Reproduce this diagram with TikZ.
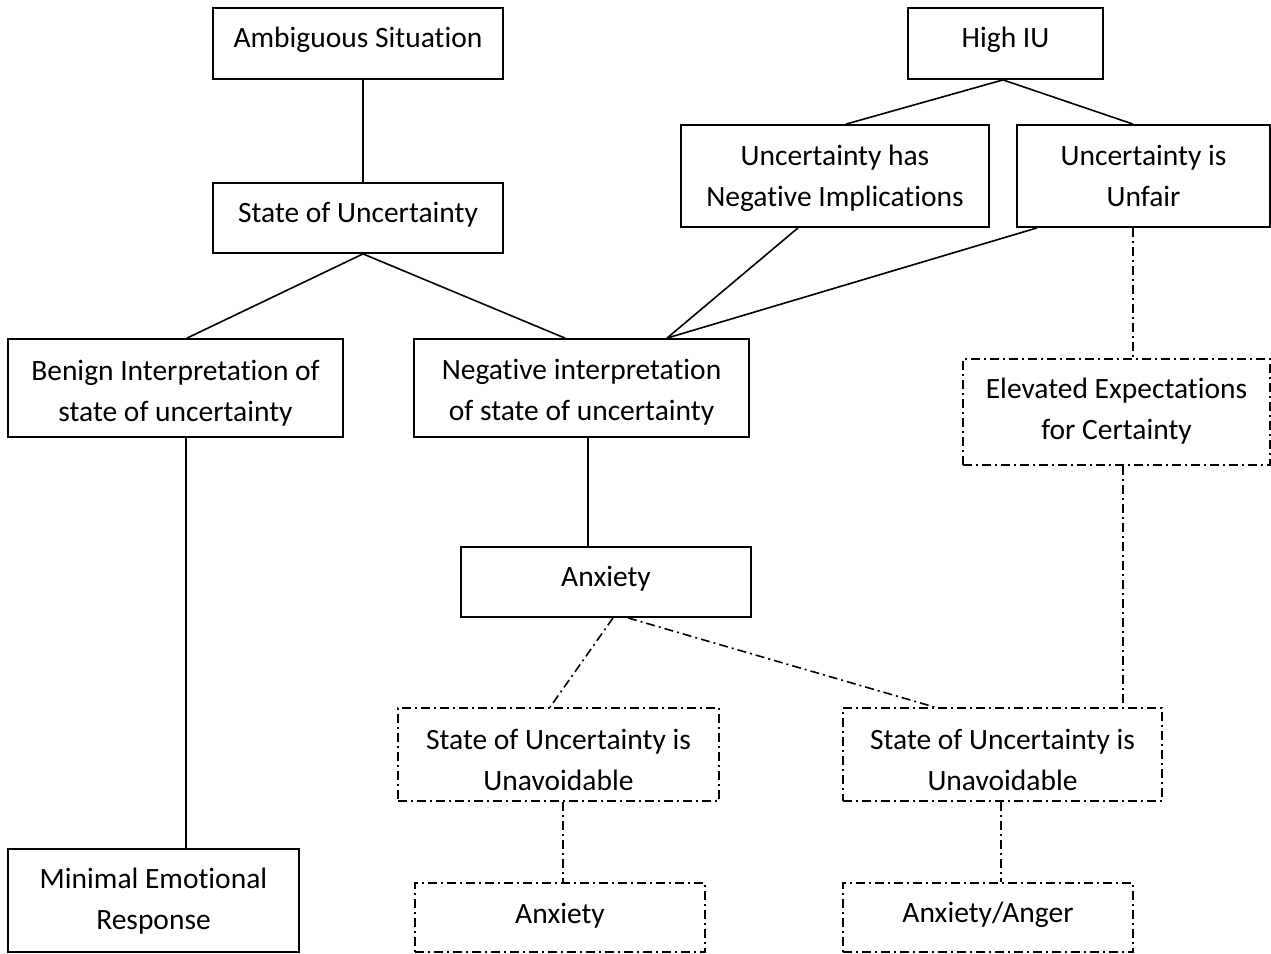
\documentclass[tikz,border=0pt]{standalone}
\usepackage{fontspec}
\setmainfont{Carlito}[Ligatures=CommonOff]
\newcommand\rl[2]{\raisebox{#1}[\height][\depth]{#2}}
\begin{document}
\begin{tikzpicture}[x=1pt,y=-1pt,
  box/.style={draw=black,line width=1.8pt,rectangle,inner sep=0pt,align=center,
    font=\fontsize{29.5}{41}\selectfont},
  dbox/.style={box,line width=1.6pt,dash pattern=on 9pt off 4pt on 2pt off 4pt},
  conn/.style={draw=black,line width=1.6pt},
  dconn/.style={conn,dash pattern=on 9pt off 4pt on 2pt off 4pt}]
\useasboundingbox (0,0) rectangle (1271,953);
\node[box,minimum width=290pt,minimum height=71pt] (amb) at (358,43.5) {\rl{3.5pt}{Ambiguous Situation}};
\node[box,minimum width=195pt,minimum height=71pt] (highiu) at (1005.5,43.5) {\rl{3.5pt}{High IU}};
\node[box,minimum width=290pt,minimum height=70pt] (state) at (358,218) {\rl{3pt}{State of Uncertainty}};
\node[box,minimum width=308pt,minimum height=102pt] (negimp) at (835,176) {\rl{-2pt}{Uncertainty has}\\\rl{-2pt}{Negative Implications}};
\node[box,minimum width=253pt,minimum height=102pt] (unfair) at (1143.5,176) {Uncertainty is\\Unfair};
\node[box,minimum width=335pt,minimum height=98pt] (benign) at (175.5,388) {\rl{-5pt}{Benign Interpretation of}\\\rl{-5pt}{state of uncertainty}};
\node[box,minimum width=335pt,minimum height=98pt] (negint) at (581.5,388) {\rl{-4pt}{Negative interpretation}\\\rl{-4pt}{of state of uncertainty}};
\node[dbox,minimum width=307pt,minimum height=106pt] (elev) at (1116.5,412) {\rl{1pt}{Elevated Expectations}\\\rl{1pt}{for Certainty}};
\node[box,minimum width=290pt,minimum height=70pt] (anx) at (606,582) {\rl{3pt}{Anxiety}};
\node[dbox,minimum width=321pt,minimum height=93pt] (unav1) at (558.5,754.5) {\rl{-5pt}{State of Uncertainty is}\\\rl{-5pt}{Unavoidable}};
\node[dbox,minimum width=319pt,minimum height=93pt] (unav2) at (1002.5,754.5) {\rl{-5pt}{State of Uncertainty is}\\\rl{-5pt}{Unavoidable}};
\node[box,minimum width=291pt,minimum height=103pt] (minimal) at (153.5,900.5) {\rl{-1pt}{Minimal Emotional}\\\rl{-1pt}{Response}};
\node[dbox,minimum width=290pt,minimum height=69pt] (anx2) at (560,917.5) {\rl{2pt}{Anxiety}};
\node[dbox,minimum width=290pt,minimum height=69pt] (anger) at (988,917.5) {\rl{2.5pt}{Anxiety/Anger}};

\draw[conn] ([xshift=5pt]amb.south) -- ([xshift=5pt]state.north);
\draw[conn] ([xshift=-2.5pt]highiu.south) -- ([xshift=11pt]negimp.north);
\draw[conn] ([xshift=-2.5pt]highiu.south) -- ([xshift=-10.5pt]unfair.north);
\draw[conn] ([xshift=5pt]state.south) -- ([xshift=11.5pt]benign.north);
\draw[conn] ([xshift=5pt]state.south) -- ([xshift=-16.5pt]negint.north);
\draw[conn] ([xshift=-37pt]negimp.south) -- ([xshift=85.5pt]negint.north);
\draw[conn] ([xshift=-106.5pt]unfair.south) -- ([xshift=85.5pt]negint.north);
\draw[dconn] ([xshift=-10.5pt]unfair.south) -- ([xshift=16.5pt]elev.north);
\draw[conn] ([xshift=10.5pt]benign.south) -- ([xshift=32.5pt]minimal.north);
\draw[conn] ([xshift=6.5pt]negint.south) -- ([xshift=-18pt]anx.north);
\draw[dconn] ([xshift=7pt]anx.south) -- ([xshift=-8.5pt]unav1.north);
\draw[dconn] ([xshift=22pt]anx.south) -- ([xshift=-67.5pt]unav2.north);
\draw[dconn] ([xshift=6.5pt]elev.south) -- ([xshift=120.5pt]unav2.north);
\draw[dconn] ([xshift=4.5pt]unav1.south) -- ([xshift=3pt]anx2.north);
\draw[dconn] ([xshift=-1.5pt]unav2.south) -- ([xshift=13pt]anger.north);
\end{tikzpicture}
\end{document}
